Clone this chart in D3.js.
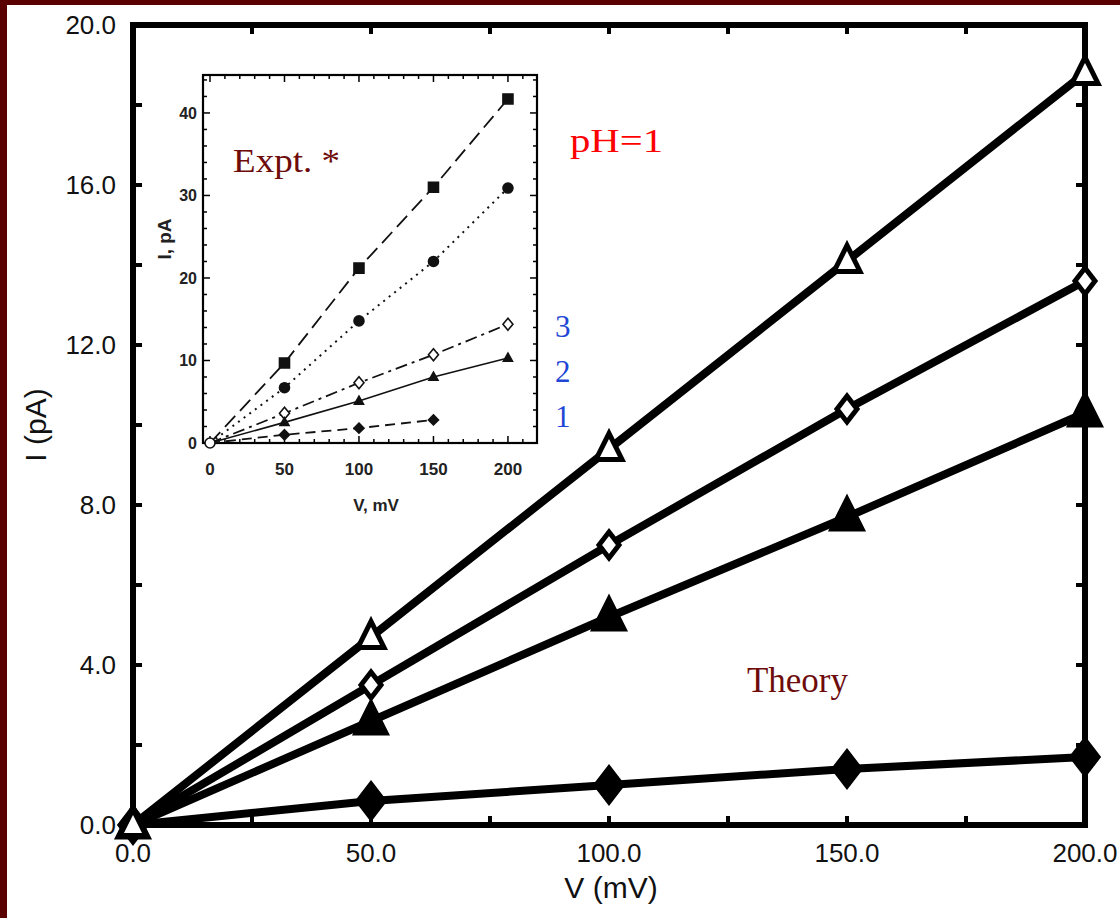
<!DOCTYPE html>
<html><head><meta charset="utf-8">
<script src="https://cdn.jsdelivr.net/npm/d3@7/dist/d3.min.js"></script>
<style>html,body{margin:0;padding:0;background:#5b0000;}svg{display:block;}</style>
</head><body>
<svg id="c" width="1120" height="918"></svg>
<script>
// ---- main chart data (Theory) ----
const mainV = [0, 50, 100, 150, 200];
const theoryOpenTri = [0, 4.7, 9.4, 14.1, 18.8];
const theoryOpenDia = [0, 3.5, 7.0, 10.4, 13.6];
const theoryFillTri = [0, 2.6, 5.2, 7.7, 10.3];
const theoryFillDia = [0, 0.6, 1.0, 1.4, 1.7];
const mainXTicks = [0, 50, 100, 150, 200];
const mainXTickLabels = ["0.0", "50.0", "100.0", "150.0", "200.0"];
const mainYTicks = [0, 4, 8, 12, 16, 20];
const mainYTickLabels = ["0.0", "4.0", "8.0", "12.0", "16.0", "20.0"];

// ---- inset data (Expt.) ----
const insetV = [0, 50, 100, 150, 200];
const exptSquare = [0, 9.7, 21.2, 31.0, 41.7];
const exptCircle = [0, 6.7, 14.8, 22.0, 30.9];
const exptOpenDia = [0, 3.6, 7.3, 10.7, 14.4];
const exptTri = [0, 2.5, 5.1, 8.0, 10.3];
const exptFillDiaV = [0, 50, 100, 150];
const exptFillDia = [0, 1.0, 1.8, 2.8];
const insetXTicks = [0, 50, 100, 150, 200];
const insetYTicks = [0, 10, 20, 30, 40];

const svg = d3.select("#c");
svg.append("rect").attr("x", 7).attr("y", 5).attr("width", 1113).attr("height", 913).attr("fill", "#ffffff");

// ---- main scales ----
const x = d3.scaleLinear().domain([0, 200]).range([133, 1085]);
const y = d3.scaleLinear().domain([0, 20]).range([825, 25]);
const g = svg.append("g");

// ticks (inward)
const tickLen = 9;
d3.range(0, 20.01, 2).forEach(v => {
  g.append("line").attr("x1", x(0)).attr("x2", x(0) + tickLen).attr("y1", y(v)).attr("y2", y(v)).attr("stroke", "#000").attr("stroke-width", 4);
  g.append("line").attr("x1", x(200)).attr("x2", x(200) - tickLen).attr("y1", y(v)).attr("y2", y(v)).attr("stroke", "#000").attr("stroke-width", 4);
});
d3.range(0, 200.01, 25).forEach(v => {
  g.append("line").attr("x1", x(v)).attr("x2", x(v)).attr("y1", y(0)).attr("y2", y(0) - tickLen).attr("stroke", "#000").attr("stroke-width", 4);
  g.append("line").attr("x1", x(v)).attr("x2", x(v)).attr("y1", y(20)).attr("y2", y(20) + tickLen).attr("stroke", "#000").attr("stroke-width", 4);
});
g.append("rect").attr("x", x(0)).attr("y", y(20)).attr("width", x(200) - x(0)).attr("height", y(0) - y(20))
  .attr("fill", "none").attr("stroke", "#000").attr("stroke-width", 6);

// tick labels
mainYTicks.forEach((v, i) => {
  g.append("text").attr("x", 116).attr("y", y(v) + 9).attr("text-anchor", "end")
    .attr("font-family", "Liberation Sans, Arial, sans-serif").attr("font-size", 26).attr("fill", "#111").text(mainYTickLabels[i]);
});
mainXTicks.forEach((v, i) => {
  g.append("text").attr("x", x(v)).attr("y", 862).attr("text-anchor", "middle")
    .attr("font-family", "Liberation Sans, Arial, sans-serif").attr("font-size", 26).attr("fill", "#111").text(mainXTickLabels[i]);
});
g.append("text").attr("x", 611).attr("y", 898).attr("text-anchor", "middle")
  .attr("font-family", "Liberation Sans, Arial, sans-serif").attr("font-size", 30).attr("fill", "#111").text("V (mV)");
g.append("text").attr("transform", "translate(46,425) rotate(-90)").attr("text-anchor", "middle")
  .attr("font-family", "Liberation Sans, Arial, sans-serif").attr("font-size", 30).attr("fill", "#111").text("I (pA)");

// ---- marker path builders ----
function triPath(w, h) { return `M0,${-h*0.6}L${w/2},${h*0.4}L${-w/2},${h*0.4}Z`; }
function diaPath(w, h) { return `M0,${-h/2}L${w/2},0L0,${h/2}L${-w/2},0Z`; }

const line = d3.line().x(d => x(d[0])).y(d => y(d[1]));
const mainSeries = [
  { vals: theoryFillDia, path: diaPath(26, 34), fill: "#000" },
  { vals: theoryFillTri, path: triPath(30, 30), fill: "#000" },
  { vals: theoryOpenDia, path: diaPath(20, 26), fill: "#fff" },
  { vals: theoryOpenTri, path: triPath(26, 26), fill: "#fff" }
];
mainSeries.forEach(s => {
  const pts = mainV.map((v, i) => [v, s.vals[i]]);
  g.append("path").attr("d", line(pts)).attr("fill", "none").attr("stroke", "#000").attr("stroke-width", 8).attr("stroke-linejoin", "round");
});
mainSeries.forEach(s => {
  const pts = mainV.map((v, i) => [v, s.vals[i]]);
  g.selectAll(null).data(pts).enter().append("path")
    .attr("transform", d => `translate(${x(d[0])},${y(d[1])})`)
    .attr("d", s.path).attr("fill", s.fill).attr("stroke", "#000").attr("stroke-width", 5).attr("stroke-linejoin", "miter");
});

// ---- inset ----
const ix = d3.scaleLinear().domain([-4.7, 219.5]).range([203, 537]);
const iy = d3.scaleLinear().domain([0, 44.6]).range([443, 75]);
const ig = svg.append("g");
ig.append("rect").attr("x", ix(-4.7)).attr("y", iy(44.6)).attr("width", ix(219.5) - ix(-4.7)).attr("height", iy(0) - iy(44.6))
  .attr("fill", "#fff").attr("stroke", "#000").attr("stroke-width", 2.2);
d3.range(0, 44.01, 2).forEach(v => {
  const L = v % 10 === 0 ? 7 : 4;
  ig.append("line").attr("x1", ix(-4.7)).attr("x2", ix(-4.7) + L).attr("y1", iy(v)).attr("y2", iy(v)).attr("stroke", "#000").attr("stroke-width", 1.5);
  ig.append("line").attr("x1", ix(219.5)).attr("x2", ix(219.5) - L).attr("y1", iy(v)).attr("y2", iy(v)).attr("stroke", "#000").attr("stroke-width", 1.5);
});
d3.range(0, 210.01, 10).forEach(v => {
  const L = v % 50 === 0 ? 7 : 4;
  ig.append("line").attr("x1", ix(v)).attr("x2", ix(v)).attr("y1", iy(0)).attr("y2", iy(0) - L).attr("stroke", "#000").attr("stroke-width", 1.5);
  ig.append("line").attr("x1", ix(v)).attr("x2", ix(v)).attr("y1", iy(44.6)).attr("y2", iy(44.6) + L).attr("stroke", "#000").attr("stroke-width", 1.5);
});
const insetFont = "Liberation Sans, Arial, sans-serif";
insetYTicks.forEach(v => {
  ig.append("text").attr("x", 197).attr("y", iy(v) + 6).attr("text-anchor", "end").attr("font-weight", "bold")
    .attr("font-family", insetFont).attr("font-size", 16).attr("fill", "#222").text(v);
});
insetXTicks.forEach(v => {
  ig.append("text").attr("x", ix(v)).attr("y", 475).attr("text-anchor", "middle").attr("font-weight", "bold")
    .attr("font-family", insetFont).attr("font-size", 17).attr("fill", "#222").text(v);
});
ig.append("text").attr("x", 376).attr("y", 511).attr("text-anchor", "middle").attr("font-weight", "bold")
  .attr("font-family", insetFont).attr("font-size", 17).attr("fill", "#222").text("V, mV");
ig.append("text").attr("transform", "translate(171,239) rotate(-90)").attr("text-anchor", "middle").attr("font-weight", "bold")
  .attr("font-family", insetFont).attr("font-size", 19).attr("fill", "#222").text("I, pA");

const iline = d3.line().x(d => ix(d[0])).y(d => iy(d[1]));
const insetSeries = [
  { V: insetV, vals: exptSquare, dash: "15,7", sw: 1.8, mk: "M-5,-5H5V5H-5Z", fill: "#111" },
  { V: insetV, vals: exptCircle, dash: "2,5", sw: 2, mk: "M5,0A5,5 0 1,1 -5,0A5,5 0 1,1 5,0Z", fill: "#111" },
  { V: insetV, vals: exptOpenDia, dash: "12,5,3,5", sw: 1.8, mk: diaPath(10, 12), fill: "#fff" },
  { V: insetV, vals: exptTri, dash: null, sw: 1.6, mk: triPath(9, 8), fill: "#111" },
  { V: exptFillDiaV, vals: exptFillDia, dash: "10,6", sw: 1.8, mk: diaPath(10, 10), fill: "#111" }
];
insetSeries.forEach(s => {
  const pts = s.V.map((v, i) => [v, s.vals[i]]);
  const p = ig.append("path").attr("d", iline(pts)).attr("fill", "none").attr("stroke", "#111").attr("stroke-width", s.sw);
  if (s.dash) p.attr("stroke-dasharray", s.dash);
});
insetSeries.forEach(s => {
  const pts = s.V.map((v, i) => [v, s.vals[i]]).slice(1);
  ig.selectAll(null).data(pts).enter().append("path")
    .attr("transform", d => `translate(${ix(d[0])},${iy(d[1])})`)
    .attr("d", s.mk).attr("fill", s.fill).attr("stroke", "#111").attr("stroke-width", 1.6);
});
ig.append("circle").attr("cx", ix(0)).attr("cy", iy(0)).attr("r", 5).attr("fill", "#fff").attr("stroke", "#111").attr("stroke-width", 1.6);

// ---- annotations ----
const serif = "Liberation Serif, Times New Roman, serif";
svg.append("text").attr("x", 233).attr("y", 172).attr("font-family", serif).attr("font-size", 33)
  .attr("fill", "#6e0b0b").attr("textLength", 107).attr("lengthAdjust", "spacingAndGlyphs").text("Expt. *");
svg.append("text").attr("x", 570).attr("y", 152).attr("font-family", serif).attr("font-size", 33)
  .attr("fill", "#ff0000").attr("textLength", 93).attr("lengthAdjust", "spacingAndGlyphs").text("pH=1");
svg.append("text").attr("x", 747).attr("y", 692).attr("font-family", serif).attr("font-size", 35)
  .attr("fill", "#6e0b0b").attr("textLength", 101).attr("lengthAdjust", "spacingAndGlyphs").text("Theory");
const seriesNums = ["3", "2", "1"];
const seriesNumY = [337, 382, 427];
seriesNums.forEach((t, i) => {
  svg.append("text").attr("x", 555).attr("y", seriesNumY[i]).attr("font-family", serif).attr("font-size", 31)
    .attr("fill", "#1f47d6").text(t);
});
</script>
</body></html>
